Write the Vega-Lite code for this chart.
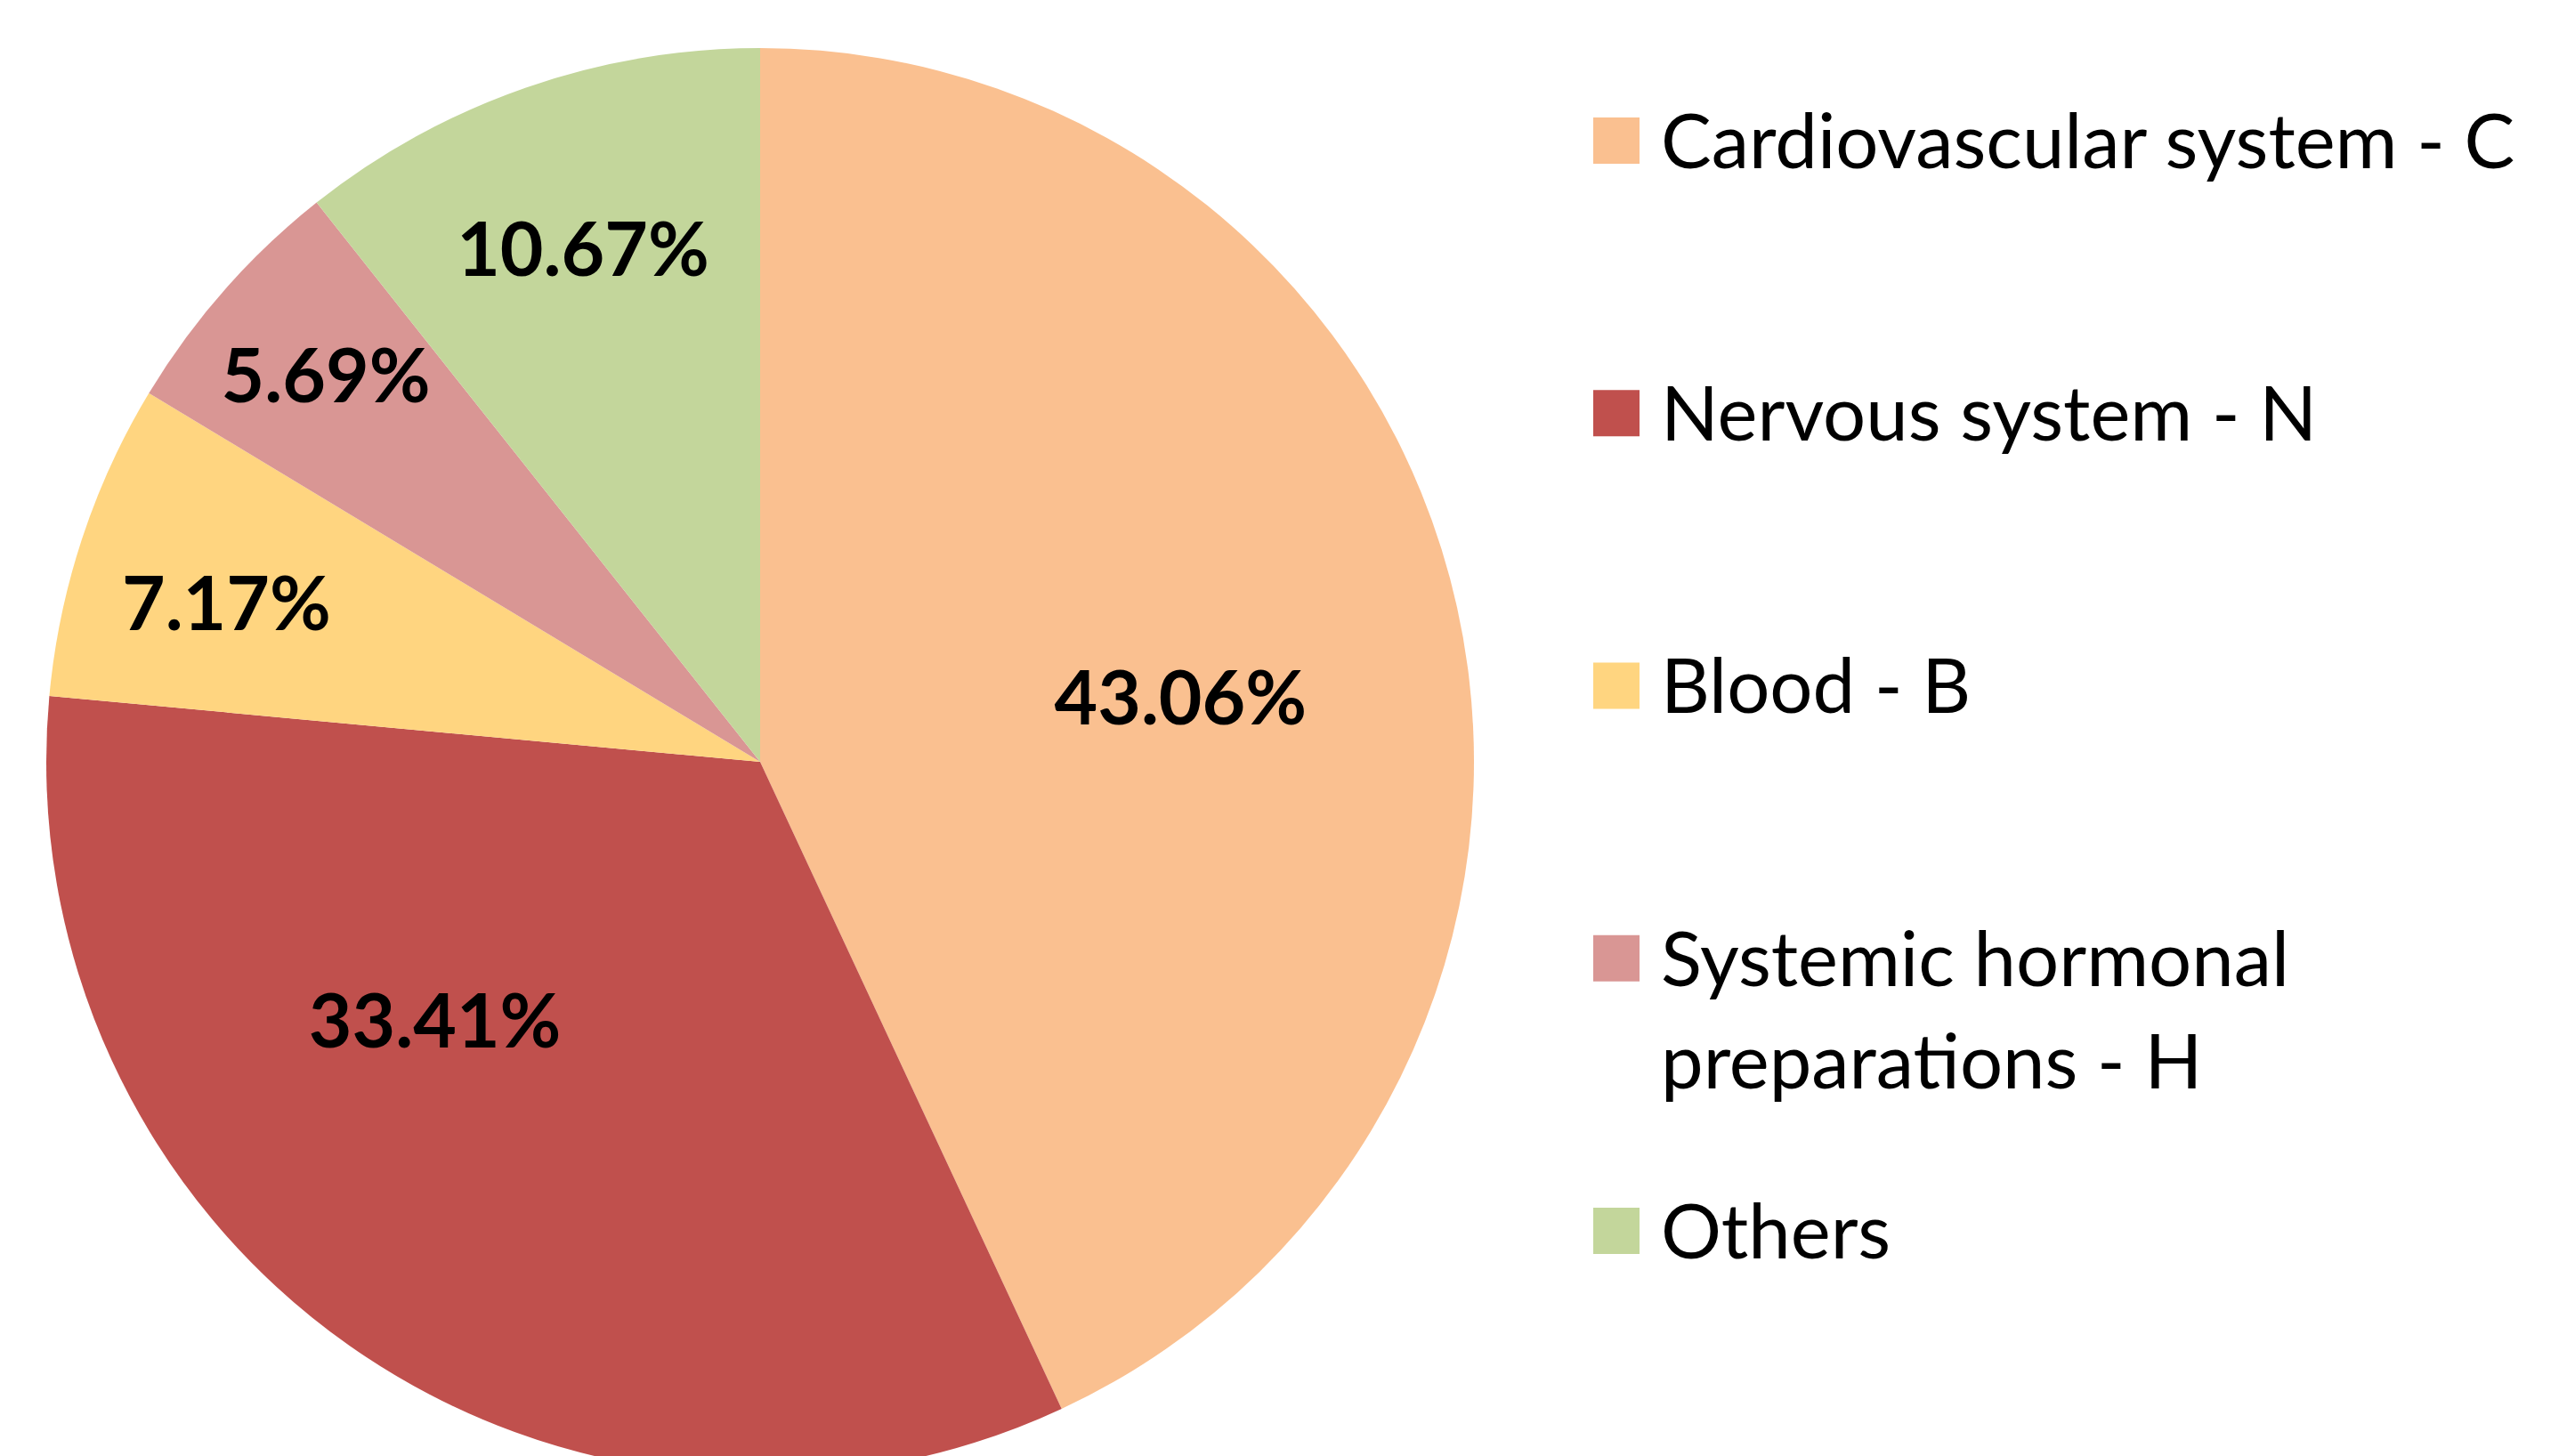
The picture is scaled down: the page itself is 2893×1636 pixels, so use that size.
{
  "$schema": "https://vega.github.io/schema/vega-lite/v6.json",
  "padding": 0,
  "background": "white",
  "spacing": 0,
  "config": {"view": {"stroke": null}, "font": "Lato"},
  "datasets": {
    "slices": [
      {"category": "Cardiovascular system - C", "legendLabel": "Cardiovascular system - C", "share": 0.4306, "order": 1},
      {"category": "Nervous system - N", "legendLabel": "Nervous system - N", "share": 0.3341, "order": 2},
      {"category": "Blood - B", "legendLabel": "Blood - B", "share": 0.0717, "order": 3},
      {"category": "Systemic hormonal preparations - H", "legendLabel": "Systemic hormonal\npreparations - H", "share": 0.0569, "order": 4},
      {"category": "Others", "legendLabel": "Others", "share": 0.1067, "order": 5}
    ]
  },
  "hconcat": [
    {
      "width": 1708,
      "height": 1712,
      "data": {"name": "slices"},
      "encoding": {
        "theta": {"field": "share", "type": "quantitative", "stack": true},
        "order": {"field": "order", "type": "quantitative"}
      },
      "layer": [
        {
          "mark": {"type": "arc", "outerRadius": 802, "stroke": null},
          "encoding": {
            "color": {
              "field": "category",
              "type": "nominal",
              "scale": {
                "domain": ["Cardiovascular system - C", "Nervous system - N", "Blood - B", "Systemic hormonal preparations - H", "Others"],
                "range": ["#FAC090", "#C0504D", "#FFD580", "#D99694", "#C3D69B"]
              },
              "legend": null
            }
          }
        },
        {
          "mark": {"type": "text", "font": "Lato", "fontWeight": "bold", "fontSize": 84, "color": "black", "align": "center", "baseline": "middle", "radius": 477, "thetaOffset": 0.077},
          "encoding": {
            "text": {"condition": {"test": "datum.share > 0.4", "field": "share", "type": "quantitative", "format": ".2%"}, "value": ""}
          }
        },
        {
          "mark": {"type": "text", "font": "Lato", "fontWeight": "bold", "fontSize": 84, "color": "black", "align": "center", "baseline": "middle", "radius": 470, "thetaOffset": 0.277},
          "encoding": {
            "text": {"condition": {"test": "datum.share > 0.2 && datum.share <= 0.4", "field": "share", "type": "quantitative", "format": ".2%"}, "value": ""}
          }
        },
        {
          "mark": {"type": "text", "font": "Lato", "fontWeight": "bold", "fontSize": 84, "color": "black", "align": "center", "baseline": "middle", "radius": 605},
          "encoding": {
            "text": {"condition": {"test": "datum.share > 0.09 && datum.share <= 0.2", "field": "share", "type": "quantitative", "format": ".2%"}, "value": ""}
          }
        },
        {
          "mark": {"type": "text", "font": "Lato", "fontWeight": "bold", "fontSize": 84, "color": "black", "align": "center", "baseline": "middle", "radius": 624, "thetaOffset": -0.037},
          "encoding": {
            "text": {"condition": {"test": "datum.share > 0.065 && datum.share <= 0.09", "field": "share", "type": "quantitative", "format": ".2%"}, "value": ""}
          }
        },
        {
          "mark": {"type": "text", "font": "Lato", "fontWeight": "bold", "fontSize": 84, "color": "black", "align": "center", "baseline": "middle", "radius": 650},
          "encoding": {
            "text": {"condition": {"test": "datum.share <= 0.065", "field": "share", "type": "quantitative", "format": ".2%"}, "value": ""}
          }
        }
      ]
    },
    {
      "width": 216,
      "height": 1712,
      "data": {"name": "slices"},
      "encoding": {
        "y": {
          "field": "order",
          "type": "quantitative",
          "scale": {"domain": [0.4841, 6.0743], "reverse": true, "nice": false, "zero": false},
          "axis": null
        }
      },
      "layer": [
        {
          "mark": {"type": "square", "size": 2704, "opacity": 1, "filled": true},
          "encoding": {
            "color": {
              "field": "category",
              "type": "nominal",
              "scale": {
                "domain": ["Cardiovascular system - C", "Nervous system - N", "Blood - B", "Systemic hormonal preparations - H", "Others"],
                "range": ["#FAC090", "#C0504D", "#FFD580", "#D99694", "#C3D69B"]
              },
              "legend": null
            }
          }
        },
        {
          "mark": {"type": "text", "font": "Lato", "fontSize": 85, "color": "black", "align": "left", "baseline": "top", "dx": 50, "dy": -36, "lineBreak": "\n", "lineHeight": 115},
          "encoding": {"text": {"field": "legendLabel", "type": "nominal"}}
        }
      ]
    }
  ]
}
